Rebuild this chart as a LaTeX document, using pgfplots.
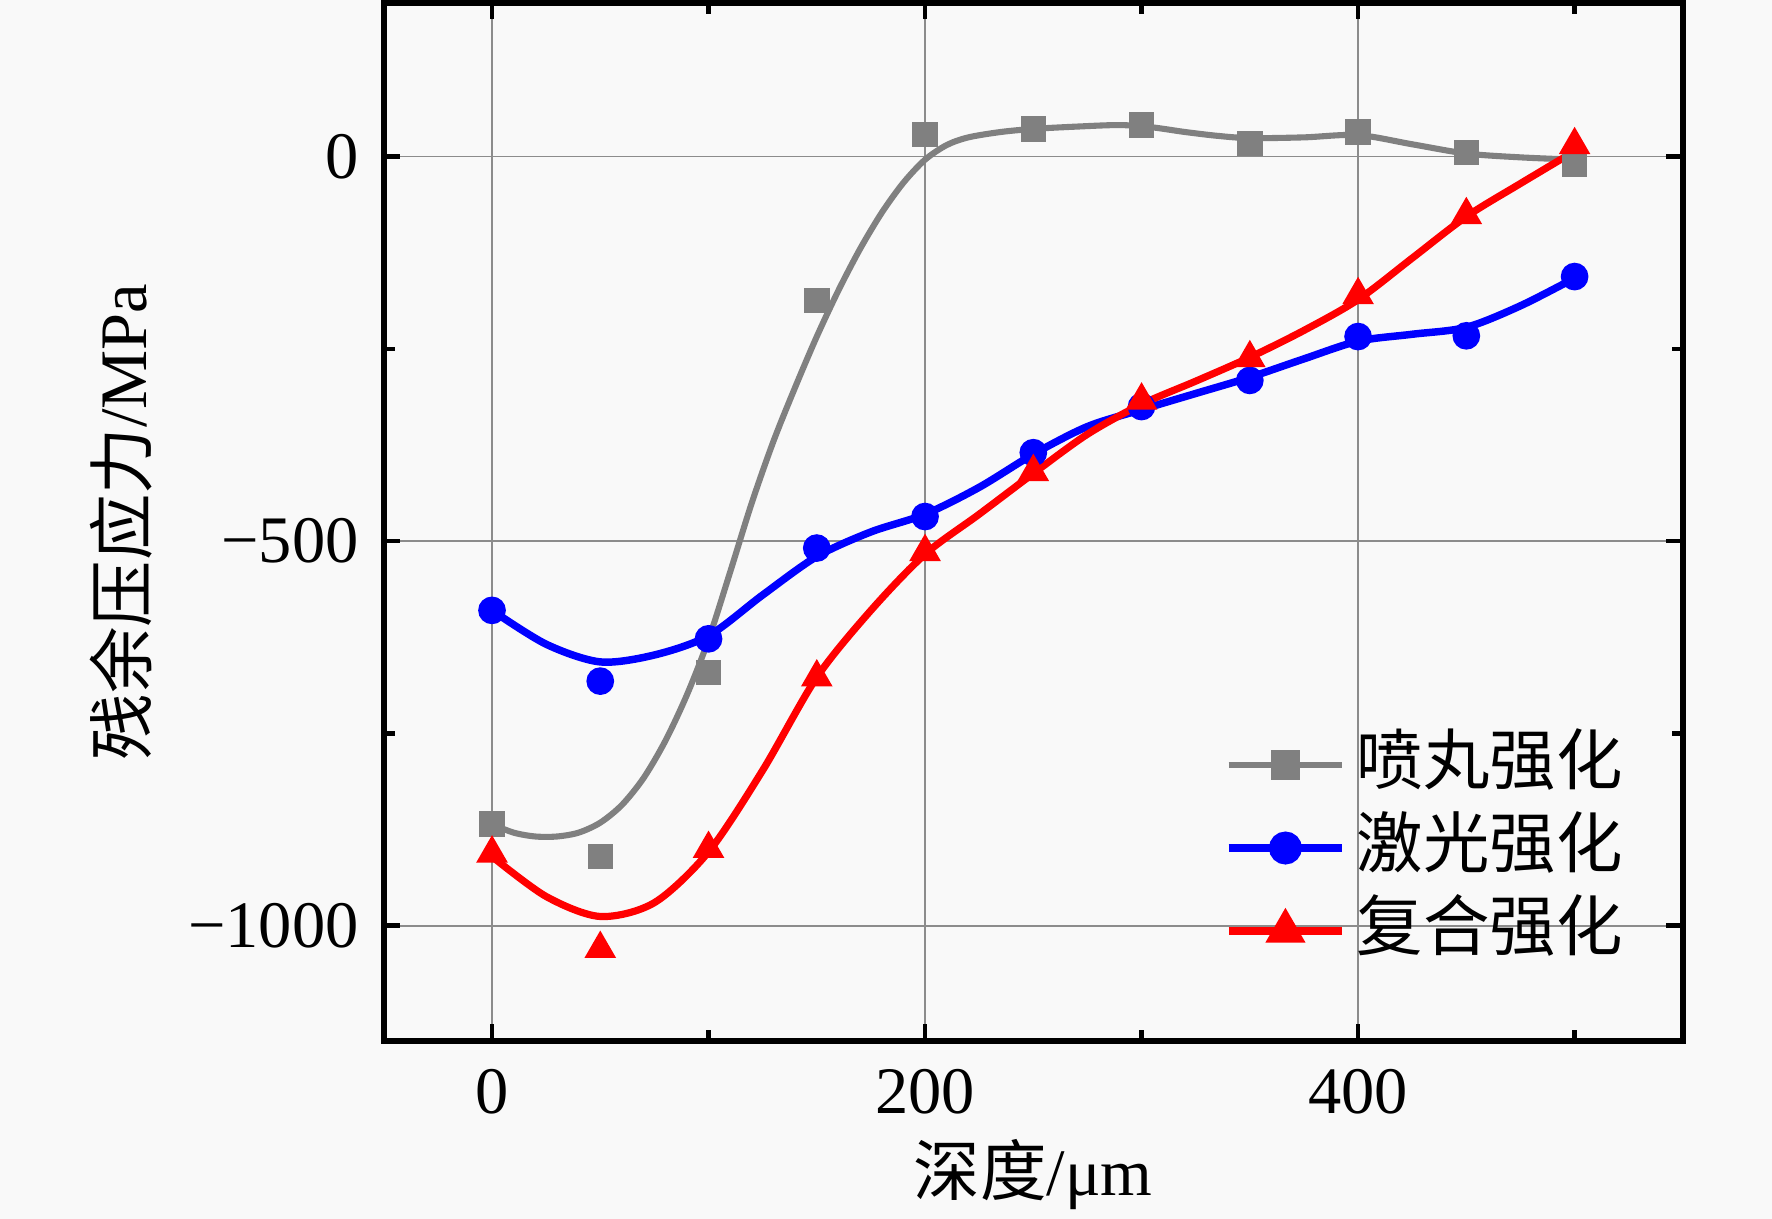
\documentclass[border=0pt]{standalone}
\usepackage{fontspec}
\setmainfont{Liberation Serif}
\newfontfamily\cjk{Noto Sans CJK SC}
\usepackage{pgfplots}
\pgfplotsset{compat=1.18}
\definecolor{bg}{RGB}{249,249,249}
\definecolor{sgray}{RGB}{128,128,128}
\definecolor{sblue}{RGB}{0,0,255}
\definecolor{sred}{RGB}{255,0,0}
\begin{document}
\begin{tikzpicture}
\path[use as bounding box, fill=bg] (0,0) rectangle (320pt,220.1pt);
\begin{axis}[
  at={(69.3pt,32.1pt)}, anchor=south west,
  scale only axis, width=234.6pt, height=187.5pt,
  xmin=-50, xmax=550, ymin=-1150, ymax=200,
  xtick={0,200,400}, xticklabels={0,200,400}, minor xtick={100,300,500},
  ytick={-1000,-500,0}, yticklabels={−1000,−500,0}, minor ytick={-750,-250},
  grid=major, major grid style={black!45, line width=0.3pt},
  tick align=inside,
  major tick length=3pt, minor tick length=2pt,
  tick style={black, line width=0.8pt},
  axis line style={line width=1pt},
  tick label style={font=\fontsize{12}{14}\selectfont},
  xticklabel style={yshift=-1.6pt},
  yticklabel style={xshift=-1pt},
  xlabel={{\cjk 深度}/μm}, ylabel={{\cjk 残余压应力}/MPa},
  label style={font=\fontsize{12}{14}\selectfont},
  xlabel style={at={(axis description cs:0.5,-0.149)}, anchor=base},
  ylabel style={at={(axis description cs:-0.183,0.5)}, anchor=base},
  legend style={draw=none, fill=none, at={(0.6467,0.307)}, anchor=north west,
    inner sep=0pt, row sep=0pt, font=\fontsize{12}{14}\selectfont\cjk,
    nodes={inner ysep=1.5pt, inner xsep=2pt, text height=9.5pt, text depth=2.5pt}},
  legend cell align=left,
  legend image code/.code={\draw[mark repeat=2, mark phase=2, #1] plot coordinates {(0cm,0cm) (0.36cm,0cm) (0.72cm,0cm)};},
]
% shot peening
\addplot[sgray, line width=1.1pt, smooth,
  legend image post style={mark=square*, mark size=2.1pt, mark options={solid, fill=sgray}}]
  coordinates {(0,-868) (10,-879) (20,-884) (30,-884) (40,-879) (50,-866) (60,-843) (70,-808) (80,-760) (90,-700) (100,-628) (110,-540) (120,-450) (130,-370) (140,-300) (150,-234) (160,-174) (170,-120) (180,-73) (190,-34) (200,-4) (210,15) (220,25) (235,32) (250,36) (270,39) (290,41) (305,38) (320,32) (335,27) (350,24) (375,25) (400,28) (425,16) (450,4) (475,-1) (500,-4)};
\addlegendentry{喷丸强化}
\addplot[only marks, mark=square*, mark size=2.1pt, color=sgray, forget plot]
  coordinates {(0,-868) (50,-910) (100,-671) (150,-187) (200,29) (250,36) (300,41) (350,17) (400,32) (450,5) (500,-10)};
% laser
\addplot[sblue, line width=1.35pt, smooth,
  legend image post style={mark=*, mark size=2.3pt, mark options={solid, fill=sblue}}]
  coordinates {(0,-590) (25,-634) (50,-657) (75,-648) (100,-623) (125,-570) (150,-520) (175,-488) (200,-465) (225,-430) (250,-387) (275,-351) (300,-329) (325,-308) (350,-287) (375,-263) (400,-240) (425,-231) (450,-222) (475,-194) (500,-158)};
\addlegendentry{激光强化}
\addplot[only marks, mark=*, mark size=2.3pt, color=sblue, forget plot]
  coordinates {(0,-590) (50,-682) (100,-627) (150,-509) (200,-468) (250,-385) (300,-325) (350,-291) (400,-234) (450,-233) (500,-156)};
% combined
\addplot[sred, line width=1.3pt, smooth,
  legend image post style={mark=triangle*, mark size=2.9pt, mark options={solid, fill=sred}}]
  coordinates {(0,-910) (25,-962) (50,-988) (75,-970) (100,-904) (125,-798) (150,-677) (175,-590) (200,-517) (225,-465) (250,-412) (275,-361) (300,-322) (325,-292) (350,-261) (375,-226) (400,-186) (425,-132) (450,-78) (475,-35) (500,7)};
\addlegendentry{复合强化}
\addplot[only marks, mark=triangle*, mark size=2.9pt, color=sred, forget plot]
  coordinates {(0,-906) (50,-1030) (100,-900) (150,-677) (200,-514) (250,-410) (300,-317) (350,-262) (400,-180) (450,-76) (500,15)};
\end{axis}
\end{tikzpicture}
\end{document}
